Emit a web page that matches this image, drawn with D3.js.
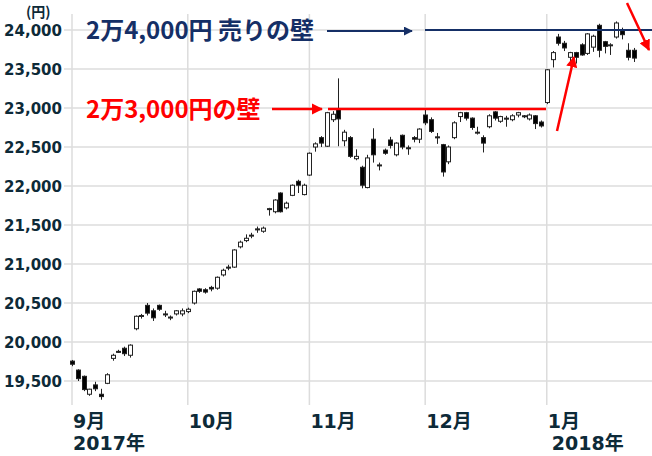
<!DOCTYPE html>
<html><head><meta charset="utf-8">
<script src="https://cdn.jsdelivr.net/npm/d3@7"></script>
<style>body{margin:0;background:#fff} svg{display:block}</style>
</head><body><svg id="c" width="652" height="456"></svg>
<script>
const dates = [
 "2017-09-01","2017-09-04","2017-09-05","2017-09-06","2017-09-07","2017-09-08","2017-09-11","2017-09-12","2017-09-13","2017-09-14","2017-09-15",
 "2017-09-19","2017-09-20","2017-09-21","2017-09-22","2017-09-25","2017-09-26","2017-09-27","2017-09-28","2017-09-29",
 "2017-10-02","2017-10-03","2017-10-04","2017-10-05","2017-10-06","2017-10-10","2017-10-11","2017-10-12","2017-10-13",
 "2017-10-16","2017-10-17","2017-10-18","2017-10-19","2017-10-20","2017-10-23","2017-10-24","2017-10-25","2017-10-26","2017-10-27","2017-10-30","2017-10-31",
 "2017-11-01","2017-11-02","2017-11-06","2017-11-07","2017-11-08","2017-11-09","2017-11-10","2017-11-13","2017-11-14","2017-11-15","2017-11-16","2017-11-17",
 "2017-11-20","2017-11-21","2017-11-22","2017-11-24","2017-11-27","2017-11-28","2017-11-29","2017-11-30",
 "2017-12-01","2017-12-04","2017-12-05","2017-12-06","2017-12-07","2017-12-08","2017-12-11","2017-12-12","2017-12-13","2017-12-14","2017-12-15",
 "2017-12-18","2017-12-19","2017-12-20","2017-12-21","2017-12-22","2017-12-25","2017-12-26","2017-12-27","2017-12-28","2017-12-29",
 "2018-01-04","2018-01-05","2018-01-09","2018-01-10","2018-01-11","2018-01-12","2018-01-15","2018-01-16","2018-01-17","2018-01-18","2018-01-19",
 "2018-01-22","2018-01-23","2018-01-24","2018-01-25","2018-01-26"
];
const openV = [
 19755,19640,19560,19330,19450,19330,19470,19790,19880,19920,19830,
 20170,20330,20470,20400,20470,20360,20320,20360,20360,
 20390,20500,20680,20670,20700,20690,20860,20960,20960,
 21220,21300,21360,21450,21420,21700,21670,21910,21720,21880,22060,21890,
 22140,22500,22620,22510,22850,22990,22580,22620,22350,22240,21980,22600,
 22270,22460,22590,22400,22650,22490,22620,22600,
 22910,22850,22630,22530,22310,22620,22890,22940,22870,22690,22620,
 22760,22950,22830,22870,22850,22910,22900,22860,22900,22820,
 23070,23620,23910,23830,23650,23710,23810,23700,23780,24060,23850,
 23800,23910,23990,23740,23740
];
const highV = [
 19770,19650,19570,19400,19490,19400,19600,19850,19900,19940,19970,
 20340,20360,20500,20430,20480,20400,20340,20410,20430,
 20440,20660,20690,20690,20720,20840,20940,20990,21190,
 21300,21380,21400,21480,21480,21720,21830,21920,21800,22020,22080,22030,
 22430,22560,22640,22950,22960,23380,22720,22640,22470,22260,22400,22740,
 22300,22480,22630,22560,22660,22520,22640,22740,
 22990,22880,22680,22540,22520,22830,22950,22950,22880,22760,22650,
 22920,22960,22900,22900,22920,22950,22910,22930,22910,22840,
 23500,23730,23950,23860,23720,23720,23830,23960,23940,24080,23860,
 23830,24110,24030,23830,23770
];
const lowV = [
 19690,19500,19370,19310,19370,19260,19460,19760,19860,19820,19800,
 20150,20300,20340,20270,20400,20320,20280,20340,20330,
 20370,20480,20630,20620,20650,20670,20840,20920,20950,
 21200,21280,21330,21400,21400,21620,21650,21660,21700,21870,21910,21880,
 22130,22440,22500,22500,22820,22510,22510,22360,22330,21970,21970,22300,
 22200,22400,22480,22380,22470,22400,22560,22550,
 22780,22680,22540,22120,22280,22600,22820,22840,22720,22660,22430,
 22740,22840,22810,22760,22830,22880,22870,22840,22730,22750,
 23050,23520,23800,23730,23580,23570,23670,23680,23720,23650,23700,
 23680,23890,23880,23610,23590
];
const closeV = [
 19715,19530,19390,19395,19400,19300,19580,19830,19875,19850,19960,
 20330,20340,20370,20310,20420,20350,20310,20400,20400,
 20420,20650,20650,20640,20680,20830,20920,20950,21180,
 21280,21330,21370,21445,21460,21710,21820,21670,21780,22010,22010,22010,
 22420,22540,22550,22940,22920,22860,22690,22380,22380,22010,22360,22400,
 22260,22420,22520,22550,22500,22480,22600,22730,
 22810,22700,22620,22180,22500,22810,22940,22870,22750,22690,22550,
 22900,22870,22890,22860,22900,22940,22890,22910,22800,22770,
 23490,23710,23830,23770,23710,23650,23680,23950,23920,23740,23790,
 23810,24090,23940,23650,23640
];
const yTicks = [19500,20000,20500,21000,21500,22000,22500,23000,23500,24000];
const monthTicks = ["2017-09-01","2017-10-02","2017-11-01","2017-12-01","2018-01-04"];
const monthLabels = ["9月","10月","11月","12月","1月"];
const yearLabels = {"2017-09-01":"2017年","2018-01-04":"2018年"};

const svg = d3.select("#c");
const x = d3.scalePoint().domain(dates).range([72, 72 + 97*5.79]);
const y = d3.scaleLinear().domain([19200, 24250]).range([404.4, 10.5]);
const grid = "#dcdcdc";
const txt = "#0d2a38";

// horizontal gridlines
svg.append("g").selectAll("line").data(yTicks).join("line")
  .attr("x1", 64).attr("x2", 652)
  .attr("y1", d => y(d)).attr("y2", d => y(d))
  .attr("stroke", grid).attr("stroke-width", 1.5);
// vertical gridlines
svg.append("g").selectAll("line").data(monthTicks).join("line")
  .attr("x1", d => x(d)).attr("x2", d => x(d))
  .attr("y1", 14).attr("y2", 405)
  .attr("stroke", grid).attr("stroke-width", 1.5);

// y labels
const fmt = d3.format(",");
svg.append("g").selectAll("text").data(yTicks).join("text")
  .attr("x", 62).attr("y", d => y(d) + 5.5)
  .attr("text-anchor", "end")
  .attr("font-family", "'DejaVu Sans', sans-serif").attr("font-weight", "bold")
  .attr("font-size", 15).attr("fill", txt)
  .text(d => fmt(d));
svg.append("text").attr("x", 26).attr("y", 17)
  .attr("font-family", "'Noto Sans CJK JP', sans-serif").attr("font-weight", "bold")
  .attr("font-size", 14).attr("fill", txt).text("(円)");

// month labels
const xl = svg.append("g");
monthTicks.forEach((d, i) => {
  xl.append("text").attr("x", x(d) + 1).attr("y", 428)
    .attr("font-family", "'DejaVu Sans', 'Noto Sans CJK JP', sans-serif").attr("font-weight", "bold")
    .attr("font-size", 19).attr("fill", txt).text(monthLabels[i]);
  if (yearLabels[d]) {
    xl.append("text").attr("x", x(d) + (i === 0 ? 1 : 5)).attr("y", 450)
      .attr("font-family", "'DejaVu Sans', 'Noto Sans CJK JP', sans-serif").attr("font-weight", "bold")
      .attr("font-size", 19).attr("fill", txt).text(yearLabels[d]);
  }
});

// candles
const bw = 4;
const cg = svg.append("g");
dates.forEach((d, i) => {
  const cx = Math.round(x(d)) + 0.5;
  const o = openV[i], c = closeV[i], h = highV[i], l = lowV[i];
  cg.append("line").attr("x1", cx).attr("x2", cx).attr("y1", y(h)).attr("y2", y(l))
    .attr("stroke", "#222").attr("stroke-width", 1);
  const top = y(Math.max(o, c)), bot = y(Math.min(o, c));
  const up = c >= o;
  cg.append("rect").attr("x", cx - bw/2).attr("y", top)
    .attr("width", bw).attr("height", Math.max(1, bot - top))
    .attr("fill", up ? "#fff" : "#000").attr("stroke", "#222").attr("stroke-width", 1);
});

// markers
const defs = svg.append("defs");
function marker(id, color) {
  defs.append("marker").attr("id", id).attr("viewBox", "0 0 10 10")
    .attr("refX", 9).attr("refY", 5).attr("markerWidth", 4.5).attr("markerHeight", 4.5)
    .attr("orient", "auto").attr("markerUnits", "strokeWidth")
    .append("path").attr("d", "M0,0 L10,5 L0,10 z").attr("fill", color);
}
const navy = "#152f66", red = "#ff0000";
marker("an", navy); marker("ar", red);

// 24000 wall
svg.append("line").attr("x1", 425).attr("x2", 652).attr("y1", y(24000)).attr("y2", y(24000))
  .attr("stroke", navy).attr("stroke-width", 2);
svg.append("line").attr("x1", 327).attr("x2", 412).attr("y1", y(24000) + 1).attr("y2", y(24000) + 1)
  .attr("stroke", navy).attr("stroke-width", 2).attr("marker-end", "url(#an)");
svg.append("text").attr("x", 86).attr("y", y(24000) + 9)
  .attr("font-family", "'Noto Sans CJK JP', sans-serif").attr("font-weight", "bold")
  .attr("font-size", 24).attr("fill", navy).text("2万4,000円 売りの壁");

// 23000 wall
svg.append("line").attr("x1", 328).attr("x2", 546).attr("y1", y(23000) + 1).attr("y2", y(23000) + 1)
  .attr("stroke", red).attr("stroke-width", 2.5);
svg.append("line").attr("x1", 272).attr("x2", 322).attr("y1", y(23000) + 1).attr("y2", y(23000) + 1)
  .attr("stroke", red).attr("stroke-width", 2.5).attr("marker-end", "url(#ar)");
svg.append("text").attr("x", 86).attr("y", y(23000) + 10)
  .attr("font-family", "'Noto Sans CJK JP', sans-serif").attr("font-weight", "bold")
  .attr("font-size", 24).attr("fill", red).text("2万3,000円の壁");

// trend arrows
svg.append("line").attr("x1", 557).attr("y1", 131).attr("x2", 574).attr("y2", 57)
  .attr("stroke", red).attr("stroke-width", 2.5).attr("marker-end", "url(#ar)");
svg.append("line").attr("x1", 627).attr("y1", 3).attr("x2", 649).attr("y2", 50)
  .attr("stroke", red).attr("stroke-width", 2.5).attr("marker-end", "url(#ar)");
</script></body></html>
